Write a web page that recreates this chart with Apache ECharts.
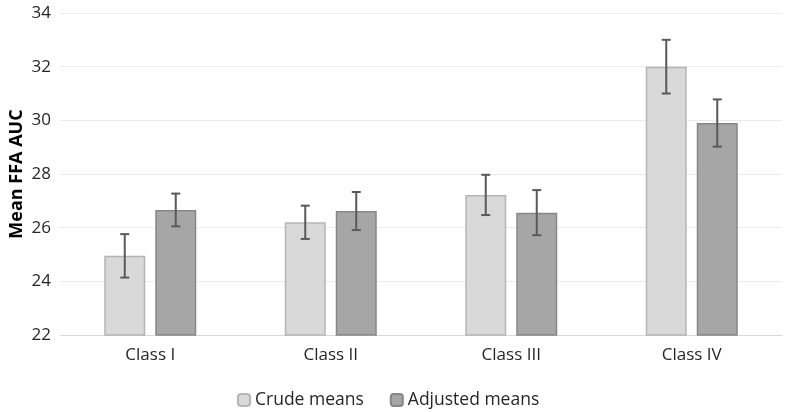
<!DOCTYPE html>
<html><head><meta charset="utf-8">
<script src="https://cdn.jsdelivr.net/npm/echarts@6/dist/echarts.min.js"></script>
<style>html,body{margin:0;padding:0;background:#fff}#c{width:786px;height:412px}</style>
</head><body><div id="c"></div>
<script>
const categories = ['Class I', 'Class II', 'Class III', 'Class IV'];
const crudeMeans = [24.95, 26.2, 27.22, 32.0];
const crudeErr = [0.81, 0.62, 0.75, 1.0];
const adjustedMeans = [26.66, 26.62, 26.56, 29.9];
const adjustedErr = [0.61, 0.71, 0.84, 0.88];
const yTicks = [22, 24, 26, 28, 30, 32, 34];

const BAR_W = 41, GAP = 10;
const FONT = 'Open Sans';
function errSeries(means, errs, side) {
  return {
    type: 'custom', z: 5,
    data: means.map((m, i) => [i, m - errs[i], m + errs[i]]),
    renderItem: function (params, api) {
      const i = api.value(0);
      const lo = api.coord([i, api.value(1)]);
      const hi = api.coord([i, api.value(2)]);
      const x = lo[0] + side * (BAR_W + GAP) / 2;
      const cap = 4.5;
      const st = { stroke: '#595959', lineWidth: 2 };
      return { type: 'group', children: [
        { type: 'line', shape: { x1: x, y1: lo[1], x2: x, y2: hi[1] }, style: st },
        { type: 'line', shape: { x1: x - cap, y1: lo[1], x2: x + cap, y2: lo[1] }, style: st },
        { type: 'line', shape: { x1: x - cap, y1: hi[1], x2: x + cap, y2: hi[1] }, style: st }
      ]};
    }
  };
}
const chart = echarts.init(document.getElementById('c'));
chart.setOption({
  animation: false,
  grid: { left: 60, right: 4, top: 13, bottom: 77, containLabel: false, outerBoundsMode: 'none' },
  legend: {
    data: ['Crude means', 'Adjusted means'],
    left: 232, top: 386, itemWidth: 12, itemHeight: 12, itemGap: 26,
    textStyle: { fontFamily: FONT, fontSize: 17.5, color: '#262626' }
  },
  xAxis: {
    type: 'category', data: categories,
    axisLine: { lineStyle: { color: '#d9d9d9', width: 1 } },
    axisTick: { show: false },
    axisLabel: { fontFamily: FONT, fontSize: 17, color: '#262626', margin: 12 }
  },
  yAxis: {
    type: 'value', min: yTicks[0], max: yTicks[yTicks.length - 1], interval: 2,
    name: 'Mean FFA AUC', nameLocation: 'middle', nameGap: 34, nameMoveOverlap: false,
    nameTextStyle: { fontFamily: FONT, fontSize: 18, fontWeight: 'bold', color: '#000' },
    axisLine: { show: false }, axisTick: { show: false },
    axisLabel: { fontFamily: FONT, fontSize: 17, color: '#262626', margin: 9 },
    splitLine: { lineStyle: { color: '#ebebeb', width: 1 } }
  },
  series: [
    { name: 'Crude means', type: 'bar', data: crudeMeans, barWidth: BAR_W, barGap: (GAP / BAR_W * 100) + '%',
      itemStyle: { color: '#d9d9d9', borderColor: '#b5b5b5', borderWidth: 1.5 } },
    { name: 'Adjusted means', type: 'bar', data: adjustedMeans, barWidth: BAR_W,
      itemStyle: { color: '#a6a6a6', borderColor: '#878787', borderWidth: 1.5 } },
    errSeries(crudeMeans, crudeErr, -1),
    errSeries(adjustedMeans, adjustedErr, 1)
  ]
});
</script></body></html>
